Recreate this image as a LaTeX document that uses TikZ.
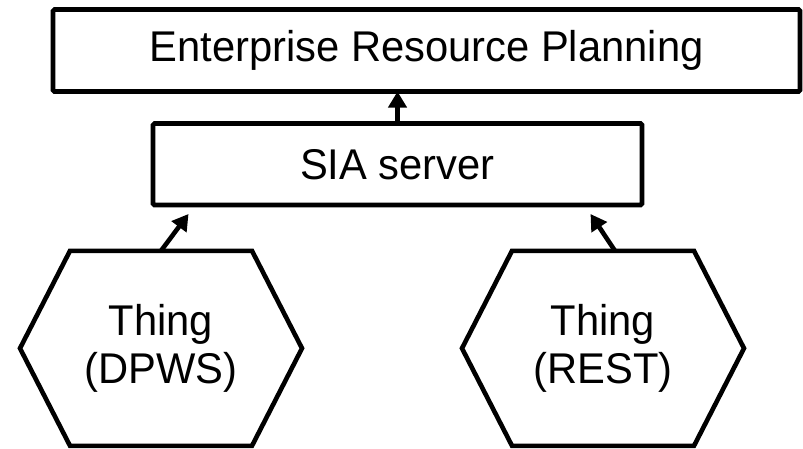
\documentclass[tikz,border=0pt]{standalone}
\usepackage{fontspec}
\setmainfont[FakeStretch=0.97]{Liberation Sans}
\usetikzlibrary{arrows.meta}

\tikzset{
  label font/.style={font=\fontsize{43pt}{48.3pt}\selectfont},
  layerbox/.style={draw, line width=4.6pt, rounded corners=1.5pt,
    inner sep=0pt, outer sep=0pt, label font},
  thingbox/.style={inner sep=0pt, outer sep=0pt, align=center,
    minimum width=282pt, minimum height=195pt, label font},
  hexline/.style={line width=4.6pt, line join=miter},
  flow/.style={line width=4.6pt,
    -{Triangle[length=16pt,width=18pt]}}
}

\begin{document}
\begin{tikzpicture}[x=1pt,y=-1pt]
  \useasboundingbox (0,0) rectangle (803,448);

  % upper layers
  \node[layerbox, minimum width=747pt, minimum height=82pt]
    (erp) at (426.5,50.5) {Enterprise Resource Planning};
  \node[layerbox, minimum width=489pt, minimum height=81.5pt]
    (sia) at (397.5,164.25) {SIA server};

  % devices
  \node[thingbox] (dpws) at (161,348.3) {Thing\\(DPWS)};
  \node[thingbox] (rest) at (603,348.3) {Thing\\(REST)};

  \foreach \t in {dpws,rest}{
    \draw[hexline] ([xshift=50pt]\t.north west) -- ([xshift=-50pt]\t.north east)
      -- (\t.east) -- ([xshift=-50pt]\t.south east)
      -- ([xshift=50pt]\t.south west) -- (\t.west) -- cycle;
  }

  % connectors
  \coordinate (dpwsIn) at (188.5,214);
  \coordinate (restIn) at (590.5,214);
  \coordinate (restOut) at ([xshift=12pt]rest.north);

  \draw[flow] (sia.north) -- (sia.north |- erp.south);
  \draw[flow] (dpws.north) -- (dpwsIn);
  \draw[flow] (restOut) -- (restIn);
\end{tikzpicture}
\end{document}
